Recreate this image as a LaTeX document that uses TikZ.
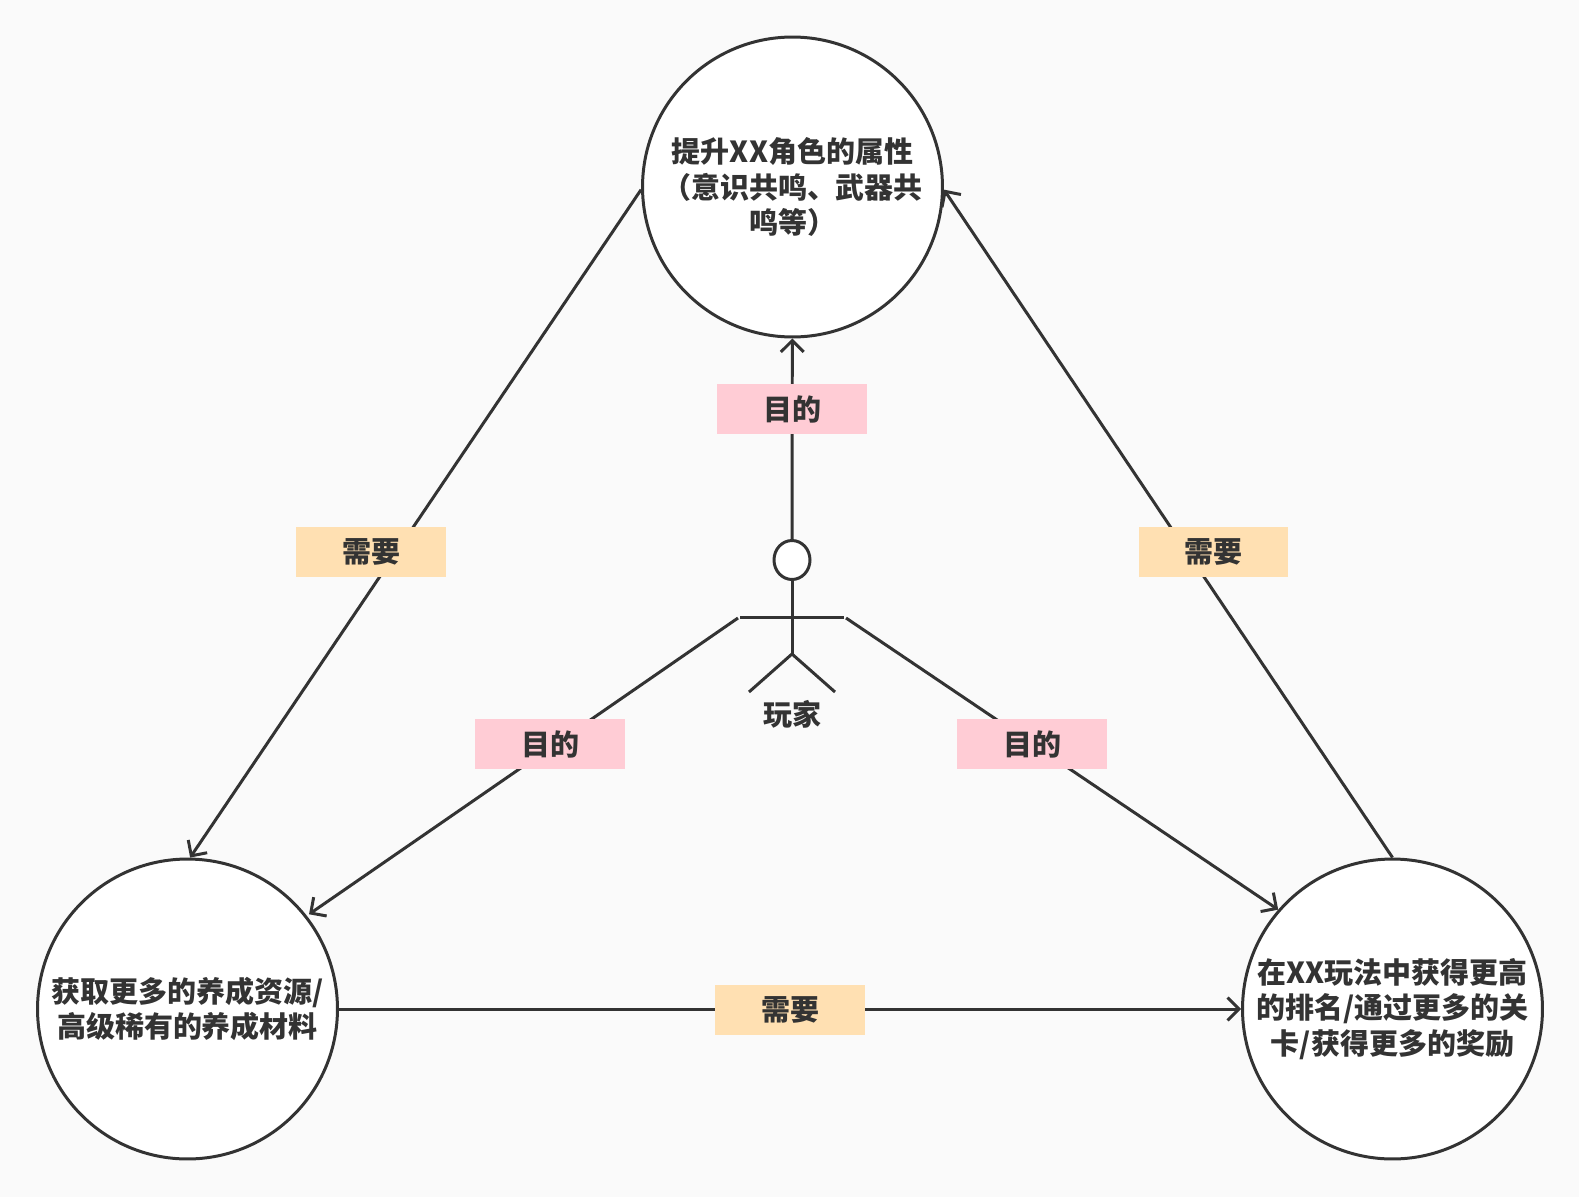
\documentclass[tikz,border=0pt]{standalone}
\usepackage{fontspec}
\setmainfont{Noto Sans CJK SC}
\usepackage{xcolor}
\usetikzlibrary{arrows.meta,shapes.geometric}
\definecolor{InkColor}{RGB}{51,51,51}
\definecolor{PaperColor}{RGB}{250,250,250}
\definecolor{GoalColor}{RGB}{255,204,213}
\definecolor{NeedColor}{RGB}{255,224,178}
\tikzset{
  goalcircle/.style={circle, draw=InkColor, fill=white, line width=1.7pt, minimum size=6cm, inner sep=0pt, align=center, text=InkColor, font=\bfseries\fontsize{16.5}{20}\selectfont},
  goalflow/.style={->, line width=1.7pt, draw=InkColor},
  stickline/.style={line width=1.7pt, draw=InkColor},
  goaltag/.style={fill=GoalColor, minimum width=3cm, minimum height=1cm, inner sep=0pt, text=InkColor, font=\bfseries\fontsize{16.5}{20}\selectfont},
  needtag/.style={fill=NeedColor, minimum width=3cm, minimum height=1cm, inner sep=0pt, text=InkColor, font=\bfseries\fontsize{16.5}{20}\selectfont},
}

\begin{document}
\begin{tikzpicture}[x=0.02cm, y=-0.02cm, >={Straight Barb[length=6.5pt, width=13pt, line width=1.7pt]}]
      \fill[PaperColor] (0,0) rectangle (1579,1197);
      \useasboundingbox (0,0) rectangle (1579,1197);

      \node[goalcircle] (attr) at (792.5,187) {提升XX角色的属性\\（意识共鸣、武器共\\鸣等）};
      \node[goalcircle] (res) at (187.5,1009) {获取更多的养成资源/\\高级稀有的养成材料};
      \node[goalcircle] (rank) at (1392.5,1009) {在XX玩法中获得更高\\的排名/通过更多的关\\卡/获得更多的奖励};

      \node[ellipse, draw=InkColor, fill=white, line width=1.7pt, minimum width=0.72cm, minimum height=0.78cm, inner sep=0pt] (head) at (792,560) {};
      \coordinate (armL) at (740,617);
      \coordinate (armR) at (844,617);
      \coordinate (handL) at (738,618);
      \coordinate (handR) at (846,618);
      \coordinate (hip) at (792,654);
      \coordinate (footL) at (749,692);
      \coordinate (footR) at (835,692);
      \node[text=InkColor, font=\bfseries\fontsize{16.5}{20}\selectfont] (player) at (792,714) {玩家};

      \draw[stickline] (head)--(hip);
      \draw[stickline] (armL)--(armR);
      \draw[stickline] (footL)--(hip)--(footR);

      \draw[goalflow] (head)--(attr);
      \draw[goalflow, shorten >=1.5pt] (handL)--(res.38.8);
      \draw[goalflow] (handR)--(rank.139.5);

      \draw[goalflow] (attr.181)--(res.89);
      \draw[goalflow] (res.east)--(rank.west);
      \draw[goalflow] (rank.north)--(attr.359);

      \node[goaltag] (goal0) at (792,409) {目的};
      \node[goaltag] (goal1) at (550,744) {目的};
      \node[goaltag] (goal2) at (1032,744) {目的};
      \node[needtag] (need0) at (371,552) {需要};
      \node[needtag] (need1) at (1213.5,552) {需要};
      \node[needtag] (need2) at (790,1010) {需要};
    \end{tikzpicture}
\end{document}
